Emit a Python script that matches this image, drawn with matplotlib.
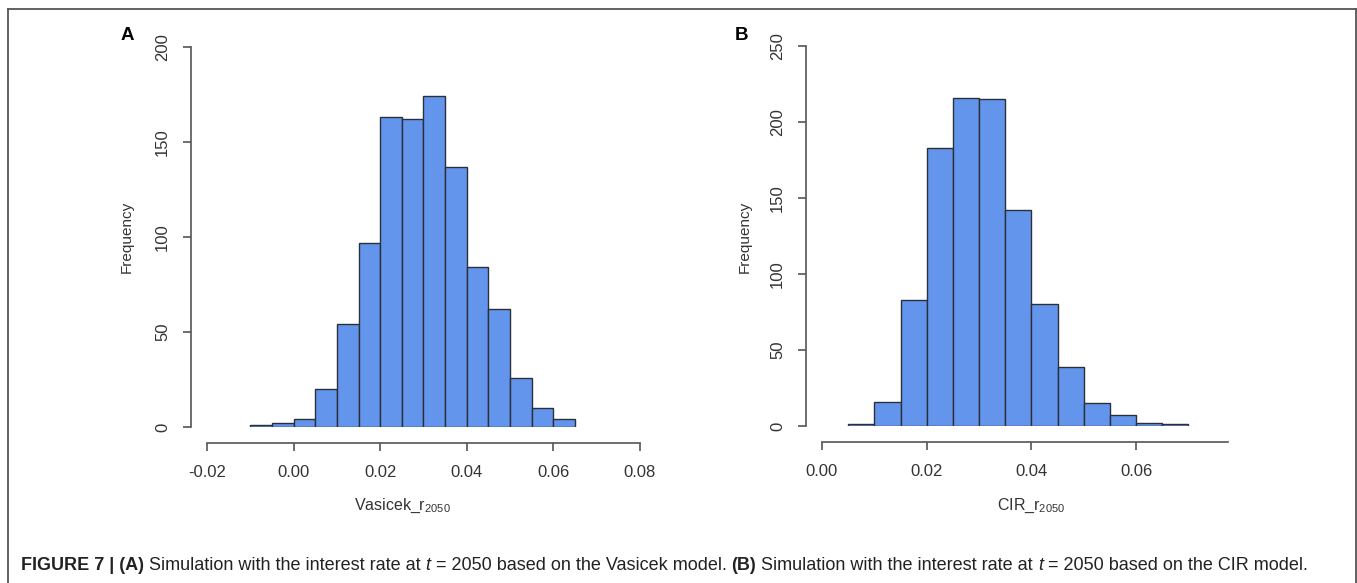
import matplotlib
matplotlib.use('Agg')
import matplotlib.pyplot as plt
from matplotlib.lines import Line2D

plt.rcParams['font.family'] = ['Liberation Sans', 'DejaVu Sans']
plt.rcParams['mathtext.fontset'] = 'custom'
plt.rcParams['mathtext.rm'] = 'Liberation Sans'
plt.rcParams['mathtext.it'] = 'Liberation Sans:italic'

# Vasicek histogram (bin width 0.005)
vas_edges = [-0.010, -0.005, 0.000, 0.005, 0.010, 0.015, 0.020, 0.025,
             0.030, 0.035, 0.040, 0.045, 0.050, 0.055, 0.060, 0.065]
vas_counts = [1, 2, 4, 20, 54, 97, 163, 162, 174, 137, 84, 62, 26, 10, 4]
vas_xticks = [-0.02, 0.00, 0.02, 0.04, 0.06, 0.08]
vas_yticks = [0, 50, 100, 150, 200]

# CIR histogram
cir_edges = [0.005, 0.010, 0.015, 0.020, 0.025, 0.030, 0.035, 0.040,
             0.045, 0.050, 0.055, 0.060, 0.065, 0.070]
cir_counts = [1, 16, 83, 183, 216, 215, 142, 80, 39, 15, 7, 2, 1]
cir_xticks = [0.00, 0.02, 0.04, 0.06]
cir_yticks = [0, 50, 100, 150, 200, 250]

W, H = 1357, 583
fig = plt.figure(figsize=(W / 100, H / 100), dpi=100)

BAR = '#6495ED'
EDGE = '#2b2f3a'
AXC = '#555555'
TXT = '#333333'
PX = 0.72  # points per pixel


def px_axes(x0, x1, ytop, ybot):
    return fig.add_axes([x0 / W, (H - ybot) / H, (x1 - x0) / W, (ybot - ytop) / H])


def r_hist(ax, edges, counts, xlim, ylim, xticks, yticks, xbound, xlabel, xlabel_x, ylabel_x):
    widths = [edges[i + 1] - edges[i] for i in range(len(counts))]
    ax.bar(edges[:-1], counts, width=widths, align='edge', color=BAR,
           edgecolor=EDGE, linewidth=1.0)
    ax.set_xlim(*xlim)
    ax.set_ylim(*ylim)
    for s in ['top', 'right']:
        ax.spines[s].set_visible(False)
    ax.spines['left'].set_position(('outward', 16.5 * PX))
    ax.spines['bottom'].set_position(('outward', 16 * PX))
    ax.spines['left'].set_bounds(yticks[0], yticks[-1])
    ax.spines['bottom'].set_bounds(*xbound)
    for s in ['left', 'bottom']:
        ax.spines[s].set_color(AXC)
        ax.spines[s].set_linewidth(1.2)
    ax.set_xticks(xticks)
    ax.set_xticklabels([f'{v:.2f}' for v in xticks])
    ax.set_yticks(yticks)
    ax.set_yticklabels([str(v) for v in yticks], rotation=90, va='center')
    ax.tick_params(axis='both', colors=AXC, labelcolor=TXT, length=8 * PX,
                   width=1.2, labelsize=12)
    ax.tick_params(axis='x', pad=10)
    ax.tick_params(axis='y', pad=9)
    ax.set_xlabel(xlabel, fontsize=11.5, color=TXT)
    ax.xaxis.set_label_coords(xlabel_x, 1 - 506 / H, transform=fig.transFigure)
    ax.xaxis.label.set_va('center')
    ax.set_ylabel('Frequency', fontsize=11, color=TXT)
    ax.yaxis.set_label_coords(ylabel_x, 1 - 237 / H, transform=fig.transFigure)
    ax.yaxis.label.set_va('center')
    ax.patch.set_alpha(0)


# panel A: x=-0.02 at px 207, 0.08 at px 640; y=0 at 427, 200 at 47
axA = px_axes(207, 640, 47, 427)
r_hist(axA, vas_edges, vas_counts, (-0.02, 0.08), (0, 200), vas_xticks, vas_yticks,
       (-0.02, 0.08), r'Vasicek_r$_{\mathrm{2050}}$', 402 / W, 127 / W)

# panel B: x=0 at px 822, 0.02 per 104.7 px, cropped at 1228; y=0 at 426, 250 at 46
xmaxB = (1228 - 822) / 104.7 * 0.02
axB = px_axes(822, 1228, 46, 426)
r_hist(axB, cir_edges, cir_counts, (0, xmaxB), (0, 250), cir_xticks, cir_yticks,
       (0, xmaxB), r'CIR_r$_{\mathrm{2050}}$', 1031 / W, 745 / W)

fig.text(127 / W, 1 - 36 / H, 'A', fontsize=13.5, fontweight='bold', ha='center', va='center')
fig.text(742 / W, 1 - 36 / H, 'B', fontsize=13.5, fontweight='bold', ha='center', va='center')

# outer frame (left, top, right)
frame = dict(color='#555555', linewidth=1.3, transform=fig.transFigure)
fig.add_artist(Line2D([8 / W, 8 / W], [0, 1 - 9 / H], **frame))
fig.add_artist(Line2D([8 / W, 1356 / W], [1 - 9 / H, 1 - 9 / H], **frame))
fig.add_artist(Line2D([1356 / W, 1356 / W], [0, 1 - 9 / H], **frame))

# caption, pieces placed one after another
pieces = [
    ('FIGURE 7 | (A)', 'bold', 'normal'),
    (' Simulation with the interest rate at ', 'normal', 'normal'),
    ('t', 'normal', 'italic'),
    (' = 2050 based on the Vasicek model. ', 'normal', 'normal'),
    ('(B)', 'bold', 'normal'),
    (' Simulation with the interest rate at ', 'normal', 'normal'),
    ('t', 'normal', 'italic'),
    (' = 2050 based on the CIR model.', 'normal', 'normal'),
]
cap = []
for txt, wt, st in pieces:
    cap.append(fig.text(0, 1 - 570 / H, txt, fontsize=13, fontweight=wt, fontstyle=st,
                        color='#222222', va='baseline', ha='left'))
fig.canvas.draw()
r = fig.canvas.get_renderer()
x = 21
for t in cap:
    t.set_x(x / W)
    x += t.get_window_extent(r).width

fig.savefig('out.png', dpi=100)
